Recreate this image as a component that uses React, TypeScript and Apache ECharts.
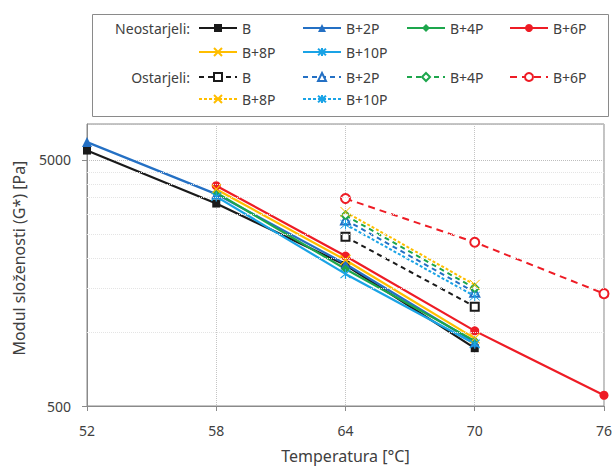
import React, { useEffect, useRef } from 'react';
import * as echarts from 'echarts';

const categories = ['52', '58', '64', '70', '76'];
const yBaseValue = 500;
const yTopValue = 7000;
const minorGridValues = [1000, 1500, 2000, 2500, 3000, 3500, 4000, 4500];

const freshB = [5460, 3325, 1871, 859, null];
const freshB2P = [5909, 3631, 1889, 908, null];
const freshB4P = [null, 3682, 1802, 920, null];
const freshB6P = [null, 3929, 2034, 1010, 553];
const freshB8P = [null, 3803, 1960, 942, null];
const freshB10P = [null, 3548, 1721, 895, null];

const agedB = [null, null, 2437, 1267, null];
const agedB2P = [null, null, 2853, 1450, null];
const agedB4P = [null, null, 2975, 1505, null];
const agedB6P = [null, null, 3483, 2316, 1431];
const agedB8P = [null, null, 3073, 1554, null];
const agedB10P = [null, null, 2737, 1397, null];

const labels = ['B', 'B+2P', 'B+4P', 'B+6P', 'B+8P', 'B+10P'];

const FONT = '"Noto Sans", sans-serif';
const TXT = '#404040';

const X_PATH = 'path://M0,0L10,10M10,0L0,10';
const STAR_PATH = 'path://M0,0L10,10M10,0L0,10M5,-1L5,11';

const colors = ['#1a1a1a', '#2470c4', '#1da64c', '#ee1c25', '#ffbe00', '#1aa3e6'];
const freshSymbols = ['rect', 'triangle', 'diamond', 'circle', X_PATH, STAR_PATH];
const agedSymbols = ['emptyRect', 'emptyTriangle', 'emptyDiamond', 'emptyCircle', X_PATH, STAR_PATH];
const freshSizes = [8, 10, 9, 9, 10, 10];
const agedSizes = [8, 9, 8, 9, 10, 10];
const agedDash: number[][] = [[5, 4], [5, 4], [5, 4], [7, 5], [3, 2], [3, 2]];

const freshData = [freshB, freshB2P, freshB4P, freshB6P, freshB8P, freshB10P];
const agedData = [agedB, agedB2P, agedB4P, agedB6P, agedB8P, agedB10P];

const toLog = (v: number | null) => (v == null ? null : Math.log10(v / yBaseValue));

export default function App() {
  const ref = useRef<HTMLDivElement>(null);
  useEffect(() => {
    if (!ref.current) return;
    const chart = echarts.init(ref.current, null, { renderer: 'svg' });

    const series: any[] = [];
    labels.forEach((lab, i) => {
      const isPath = freshSymbols[i].startsWith('path');
      series.push({
        name: 'N|' + lab,
        type: 'line',
        data: freshData[i].map(toLog),
        symbol: freshSymbols[i],
        symbolSize: freshSizes[i],
        connectNulls: false,
        lineStyle: { color: colors[i], width: 2.2, type: 'solid' },
        itemStyle: isPath
          ? { color: colors[i], borderColor: colors[i], borderWidth: 1.2 }
          : { color: colors[i], borderColor: colors[i], borderWidth: 0 },
        z: 3,
      });
    });
    labels.forEach((lab, i) => {
      series.push({
        name: 'O|' + lab,
        type: 'line',
        data: agedData[i].map(toLog),
        symbol: agedSymbols[i],
        symbolSize: agedSizes[i],
        connectNulls: false,
        lineStyle: { color: colors[i], width: 2, type: agedDash[i] },
        itemStyle: { color: colors[i], borderColor: colors[i], borderWidth: 1 },
        z: 3,
      });
    });
    series.push({
      name: 'minor',
      type: 'line',
      data: [],
      silent: true,
      z: 1,
      markLine: {
        silent: true,
        symbol: 'none',
        animation: false,
        label: { show: false },
        lineStyle: { color: '#e4e4e4', type: 'dotted', width: 1 },
        data: minorGridValues.map((v) => ({ yAxis: Math.log10(v / yBaseValue) })),
      },
    });

    const cols = [198, 302, 406, 509];
    const rows = [28, 52, 77, 99];
    const legends: any[] = [];
    labels.forEach((lab, i) => {
      const r = i < 4 ? 0 : 1;
      const c = i < 4 ? i : i - 4;
      legends.push({ name: 'N|' + lab, x: cols[c], y: rows[r] });
      legends.push({ name: 'O|' + lab, x: cols[c], y: rows[r + 2] });
    });

    chart.setOption({
      animation: false,
      textStyle: { fontFamily: FONT },
      grid: { left: 87, right: 8, top: 124, bottom: 61, show: true, borderColor: '#8a8a8a', borderWidth: 1 },
      legend: legends.map((l) => ({
        show: true,
        data: [l.name],
        left: l.x,
        top: l.y - 7,
        padding: 0,
        itemGap: 0,
        itemWidth: 38,
        itemHeight: 10,
        selectedMode: false,
        formatter: (n: string) => n.split('|')[1],
        textStyle: { fontSize: 14, color: TXT, fontFamily: FONT },
      })),
      graphic: [
        {
          type: 'rect',
          left: 90,
          top: 12,
          shape: { x: 0, y: 0, width: 516, height: 102 },
          style: { fill: 'none', stroke: '#8a8a8a', lineWidth: 1 },
          silent: true,
        },
        {
          type: 'text',
          x: 190,
          y: 28,
          style: { text: 'Neostarjeli:', fontSize: 14, fill: TXT, fontFamily: FONT, align: 'right', verticalAlign: 'middle' },
        },
        {
          type: 'text',
          x: 190,
          y: 77,
          style: { text: 'Ostarjeli:', fontSize: 14, fill: TXT, fontFamily: FONT, align: 'right', verticalAlign: 'middle' },
        },
      ],
      xAxis: {
        type: 'category',
        data: categories,
        boundaryGap: false,
        name: 'Temperatura [°C]',
        nameLocation: 'middle',
        nameGap: 42,
        nameTextStyle: { fontSize: 16, color: TXT, fontFamily: FONT },
        axisLine: { lineStyle: { color: '#8a8a8a' } },
        axisTick: { show: true, length: 5, lineStyle: { color: '#8a8a8a' } },
        axisLabel: { fontSize: 14, color: TXT, margin: 17, fontFamily: FONT },
        splitLine: { show: true, lineStyle: { color: '#c4c4c4', type: 'dotted', width: 1 } },
      },
      yAxis: {
        type: 'value',
        min: 0,
        max: Math.log10(yTopValue / yBaseValue),
        interval: 1,
        name: 'Modul složenosti (G*) [Pa]',
        nameLocation: 'middle',
        nameGap: 60,
        nameTextStyle: { fontSize: 16, color: TXT, fontFamily: FONT, padding: [0, 0, 0, 14] },
        axisLine: { show: true, lineStyle: { color: '#8a8a8a' } },
        axisTick: { show: true, length: 5, lineStyle: { color: '#8a8a8a' } },
        axisLabel: {
          fontSize: 14,
          color: TXT,
          margin: 16,
          fontFamily: FONT,
          showMaxLabel: false,
          formatter: (v: number) => String(Math.round(yBaseValue * Math.pow(10, v))),
        },
        splitLine: { show: true, lineStyle: { color: '#bdbdbd', type: 'dotted', width: 1 } },
      },
      series,
    });
    return () => chart.dispose();
  }, []);
  return <div ref={ref} style={{ width: 615, height: 469, position: 'absolute', left: 0, top: 0, background: '#fff' }} />;
}
